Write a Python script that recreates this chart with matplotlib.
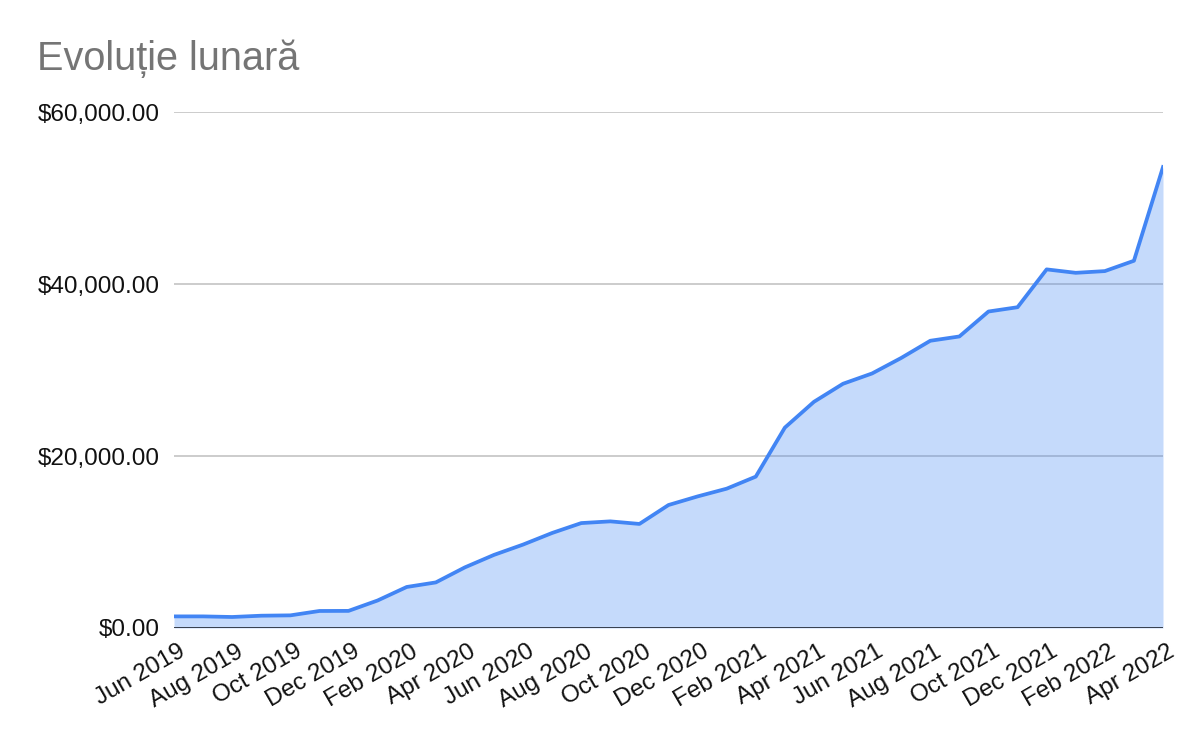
import matplotlib
matplotlib.use("Agg")
import matplotlib.pyplot as plt
from matplotlib.ticker import FuncFormatter
from matplotlib.transforms import ScaledTranslation

months = ["Jun 2019", "Jul 2019", "Aug 2019", "Sep 2019", "Oct 2019", "Nov 2019", "Dec 2019",
          "Jan 2020", "Feb 2020", "Mar 2020", "Apr 2020", "May 2020", "Jun 2020", "Jul 2020",
          "Aug 2020", "Sep 2020", "Oct 2020", "Nov 2020", "Dec 2020", "Jan 2021", "Feb 2021",
          "Mar 2021", "Apr 2021", "May 2021", "Jun 2021", "Jul 2021", "Aug 2021", "Sep 2021",
          "Oct 2021", "Nov 2021", "Dec 2021", "Jan 2022", "Feb 2022", "Mar 2022", "Apr 2022"]
values = [1350, 1350, 1280, 1430, 1470, 1980, 1990,
          3200, 4770, 5300, 7050, 8500, 9700, 11050,
          12200, 12400, 12100, 14300, 15300, 16200, 17600,
          23300, 26300, 28400, 29600, 31400, 33400, 33900,
          36800, 37300, 41700, 41300, 41500, 42700, 53600]
yticks = [0, 20000, 40000, 60000]
title = "Evoluție lunară"

plt.rcParams['font.family'] = ['Liberation Sans', 'DejaVu Sans']

fig = plt.figure(figsize=(12, 7.42), dpi=100)
ax = fig.add_axes([174/1200, 1 - 628/742, (1163-174)/1200, (628-112)/742])

x = list(range(len(values)))
ax.fill_between(x, values, 0, color="#4285F4", alpha=0.3, linewidth=0, zorder=3)
ax.plot(x, values, color="#4285F4", linewidth=2.7, zorder=4, solid_joinstyle="round")

ax.set_xlim(0, len(values) - 1)
ax.set_ylim(0, 60000)
ax.set_yticks(yticks)
ax.yaxis.set_major_formatter(FuncFormatter(lambda v, p: "${:,.2f}".format(v)))
ax.grid(axis="y", color="#c8c8c8", linewidth=1.3, zorder=1)
ax.set_axisbelow(True)
ax.axhline(0, color="#2e3440", linewidth=2.0, zorder=5)

ax.set_xticks(x[::2])
ax.set_xticklabels(months[::2], rotation=30, ha="right", rotation_mode="anchor")
ax.tick_params(axis="both", length=0, labelsize=17.5, colors="#111111")
ax.tick_params(axis="y", pad=10)
ax.tick_params(axis="x", pad=9)
offset = ScaledTranslation(4/100, 0, fig.dpi_scale_trans)
for lab in ax.get_xticklabels():
    lab.set_transform(lab.get_transform() + offset)
for s in ax.spines.values():
    s.set_visible(False)

fig.text(37/1200, 1 - 70/742, title, fontsize=28.5, color="#757575", ha="left", va="baseline")

fig.savefig("out.png", dpi=100, facecolor="white")
